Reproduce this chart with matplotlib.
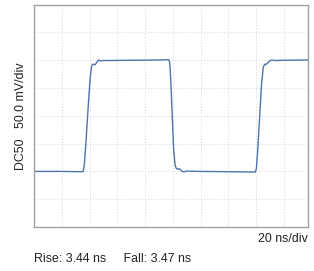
import matplotlib
matplotlib.use('Agg')

import matplotlib.pyplot as plt
import numpy as np

# Scope trace, time in ns and voltage in mV (50 mV/div, 20 ns/div)
time_ns = [0, 20, 34, 35.4, 36.2, 37.5, 39.0, 40.5, 41.6, 42.4, 43.2, 44.0,
           45.2, 46.4, 47.6, 50, 70, 90, 97.0, 97.8, 98.6, 99.6, 100.6, 101.6,
           102.6, 103.5, 104.3, 105.3, 106.5, 108.0, 109.5, 120, 140, 155,
           159.4, 160.2, 161.2, 162.6, 164.0, 165.2, 166.3, 167.2, 168.4,
           169.8, 171.6, 173.5, 180, 197.4]
volt_mv = [-100, -100, -100.5, -100, -90, -45, 15, 70, 90, 93, 92.5, 92,
           96, 100.5, 99, 99.5, 100, 100.5, 101, 96, 60, 0, -60, -88,
           -95, -96, -95, -96.5, -99.5, -101, -99.5, -100, -100.5, -101,
           -101, -95, -60, 0, 60, 88, 93, 92.5, 95, 99, 100.5, 99.5, 100, 100.5]

x_div = 20
y_div = 50

fig = plt.figure(figsize=(3.14, 2.71), dpi=100)
ax = fig.add_axes([34 / 314, (271 - 227) / 271, 274 / 314, 222.3 / 271])

ax.plot(time_ns, volt_mv, color='#4f74ad', linewidth=1.0)

ax.set_xlim(0, 197.4)
ax.set_ylim(-200, 200)
ax.set_xticks(np.arange(x_div, 197.4, x_div))
ax.set_yticks(np.arange(-200 + y_div, 200, y_div))
ax.tick_params(length=0, labelbottom=False, labelleft=False)
ax.grid(True, color='#d4d4d4', linestyle=(0, (1, 2)), linewidth=0.7)

for s in ax.spines.values():
    s.set_color('#a0a0a0')
    s.set_linewidth(1.0)

font = 'Liberation Sans'
fig.text(21 / 314, 1 - 116 / 271, 'DC50   50.0 mV/div', rotation=90,
         ha='center', va='center', fontsize=8.9, family=font, color='#222222')
fig.text(308 / 314, 1 - 239 / 271, '20 ns/div', ha='right', va='center',
         fontsize=8.9, family=font, color='#222222')
fig.text(33.5 / 314, 1 - 259 / 271, 'Rise: 3.44 ns     Fall: 3.47 ns',
         ha='left', va='center', fontsize=8.9, family=font, color='#222222')

plt.savefig('out.png', dpi=100)
